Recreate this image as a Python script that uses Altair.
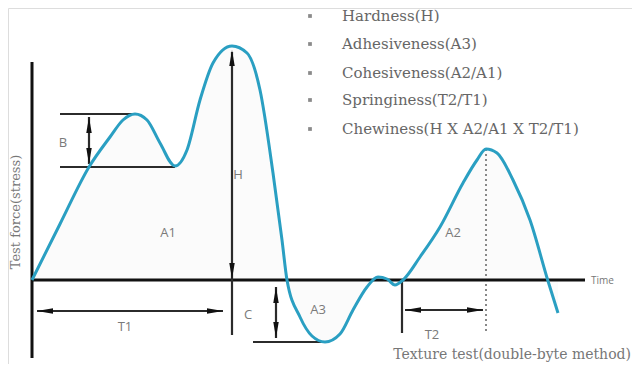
import altair as alt
import pandas as pd

# ---- data (pixel-like coordinate system) ----
curve_x = [32, 60, 89, 110, 123, 135, 147, 160, 175, 187, 200, 213, 232, 247, 260, 273, 282, 287,
           300, 312, 325, 340, 353, 367, 378, 387, 395, 403, 420, 440, 463, 477, 486, 497, 513, 530, 548, 558]
curve_y = [280, 224, 167, 137, 120, 114, 120, 143, 166, 150, 100, 63, 46, 53, 90, 173, 240, 280,
           317, 336, 342, 334, 310, 287, 277, 279, 285, 280, 257, 227, 183, 160, 149, 153, 180, 220, 281, 313]

axis_x1 = [32, 32]
axis_y1 = [62, 280]
axis_x2 = [32, 585]
axis_y2 = [358, 280]

guide_x1 = [60, 60, 253, 232, 402, 89, 37, 276, 405]
guide_y1 = [114, 167, 342, 52, 280, 117, 311, 287, 310]
guide_x2 = [135, 175, 325, 232, 402, 89, 223, 276, 483]
guide_y2 = [114, 167, 342, 335, 333, 164, 311, 338, 310]

dot_x = [486]
dot_y1 = [149]
dot_y2 = [332]

head_x = [89, 89, 232, 232, 37, 223, 276, 276, 405, 483]
head_y = [117, 164, 50, 279, 311, 311, 287, 338, 310, 310]
head_dir = [0, 180, 0, 180, 270, 90, 0, 180, 270, 90]

label_text = ["B", "H", "A1", "T1", "C", "A3", "T2", "A2"]
label_x = [63, 238, 168, 125, 248, 318, 432, 453]
label_y = [143, 175, 233, 327, 315, 310, 335, 233]

legend_items = ["Hardness(H)", "Adhesiveness(A3)", "Cohesiveness(A2/A1)",
                "Springiness(T2/T1)", "Chewiness(H X A2/A1 X T2/T1)"]
legend_y = [16, 44, 73, 100, 129]

# ---- tables ----
curve = pd.DataFrame({"x": curve_x, "y": curve_y, "base": [280] * len(curve_x)})
axes_df = pd.DataFrame({"x": axis_x1, "y": axis_y1, "x2": axis_x2, "y2": axis_y2})
guides = pd.DataFrame({"x": guide_x1, "y": guide_y1, "x2": guide_x2, "y2": guide_y2})
dots = pd.DataFrame({"x": dot_x, "y": dot_y1, "y2": dot_y2})

HL = 16
off = {0: (0, HL / 2), 180: (0, -HL / 2), 90: (-HL / 2, 0), 270: (HL / 2, 0)}
heads = pd.DataFrame({
    "x": [x + off[a][0] for x, a in zip(head_x, head_dir)],
    "y": [y + off[a][1] for y, a in zip(head_y, head_dir)],
    "a": head_dir,
})
labels = pd.DataFrame({"t": label_text, "x": label_x, "y": label_y})
legend = pd.DataFrame({"t": legend_items, "y": legend_y})

xs = alt.Scale(domain=[8, 632], nice=False, zero=False)
ys = alt.Scale(domain=[8, 364], nice=False, zero=False, reverse=True)
X = lambda f="x": alt.X(f"{f}:Q", scale=xs, axis=None)
Y = lambda f="y": alt.Y(f"{f}:Q", scale=ys, axis=None)

fill = alt.Chart(curve).mark_area(color="#fbfbfb", interpolate="monotone").encode(
    x=X(), y=Y(), y2="base:Q")

line = alt.Chart(curve).mark_line(color="#2a9fc2", strokeWidth=3, interpolate="monotone").encode(
    x=X(), y=Y())

axes_l = alt.Chart(axes_df).mark_rule(color="#111111", strokeWidth=3).encode(
    x=X(), y=Y(), x2="x2:Q", y2="y2:Q")

guide_l = alt.Chart(guides).mark_rule(color="#2b2b2b", strokeWidth=2.2).encode(
    x=X(), y=Y(), x2="x2:Q", y2="y2:Q")

dot_l = alt.Chart(dots).mark_rule(color="#888888", strokeWidth=2, strokeDash=[2, 3]).encode(
    x=X(), y=Y(), y2="y2:Q")

head_l = alt.Chart(heads).mark_point(
    shape="M0,-1L0.34,1L-0.34,1Z", filled=True, color="#111111", opacity=1, size=HL * HL
).encode(x=X(), y=Y(), angle=alt.Angle("a:Q", scale=None))

label_l = alt.Chart(labels).mark_text(
    font="Open Sans", fontSize=13, color="#7a7a7a", align="center", baseline="middle"
).encode(x=X(), y=Y(), text="t:N")

time_l = alt.Chart(pd.DataFrame({"t": ["Time"], "x": [591], "y": [281]})).mark_text(
    font="Open Sans", fontSize=10, color="#777777", align="left", baseline="middle"
).encode(x=X(), y=Y(), text="t:N")

ytitle = alt.Chart(pd.DataFrame({"t": ["Test force(stress)"], "x": [16], "y": [212]})).mark_text(
    font="DejaVu Serif", fontSize=13, color="#777777", angle=270, align="center", baseline="middle"
).encode(x=X(), y=Y(), text="t:N")

bottom = alt.Chart(pd.DataFrame({"t": ["Texture test(double-byte method)"], "x": [631], "y": [355]})).mark_text(
    font="DejaVu Serif", fontSize=14, color="#777777", align="right", baseline="middle"
).encode(x=X(), y=Y(), text="t:N")

bullets = alt.Chart(legend).mark_square(color="#8a8a8a", size=14, opacity=1).encode(
    x=alt.X("bx:Q", scale=xs, axis=None), y=Y()).transform_calculate(bx="310")

legend_t = alt.Chart(legend).mark_text(
    font="DejaVu Serif", fontSize=15, color="#666666", align="left", baseline="middle"
).encode(x=alt.X("lx:Q", scale=xs, axis=None), y=Y(), text="t:N").transform_calculate(lx="342")

chart = alt.layer(
    fill, dot_l, axes_l, guide_l, line, head_l, label_l, time_l, ytitle, bottom, bullets, legend_t
).properties(
    width=624, height=356, padding=0, autosize=alt.AutoSizeParams(type="none")
).configure_view(stroke=None).configure(background="white")

chart.save("out.html", embed_options={"renderer": "svg", "actions": False})
